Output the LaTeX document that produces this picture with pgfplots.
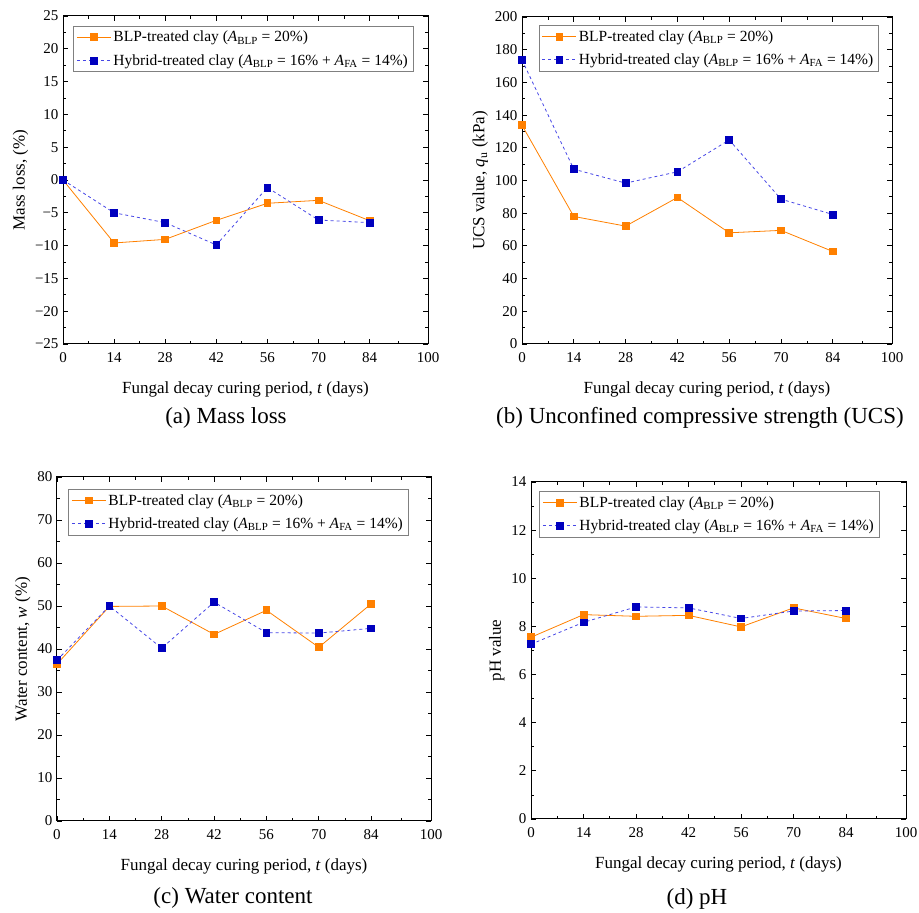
\documentclass[border=0pt]{standalone}
\usepackage{fontspec}
\setmainfont{Liberation Serif}
\usepackage{pgfplots}
\pgfplotsset{compat=1.18}
\definecolor{blporange}{RGB}{255,128,0}
\definecolor{hyblue}{RGB}{0,0,190}
\definecolor{hyline}{RGB}{70,70,230}
\newcommand{\legA}{BLP-treated clay (\textit{A}\textsubscript{BLP} = 20\%)}
\newcommand{\legB}{Hybrid-treated clay (\textit{A}\textsubscript{BLP} = 16\% + \textit{A}\textsubscript{FA} = 14\%)}
\pgfplotsset{
  myax/.style={
    scale only axis,
    xmin=0, xmax=100,
    xtick={0,14,28,42,56,70,84,100},
    minor xtick={7,21,35,49,63,77,92},
    tick align=inside,
    major tick length=5pt,
    minor tick length=3pt,
    every tick/.style={black, line width=0.8pt},
    axis line style={line width=1pt},
    /pgf/number format/assume math mode=true,
    ticklabel style={font=\fontsize{15}{15}\selectfont},
    xticklabel style={yshift=-5pt},
    yticklabel style={xshift=-1pt},
    label style={font=\fontsize{17}{17}\selectfont},
    xlabel style={yshift=-12pt},
    xlabel={Fungal decay curing period, \textit{t} (days)},
    legend cell align=left,
    legend style={at={(0.028,0.97)}, anchor=north west, draw=gray, line width=0.6pt,
      font=\fontsize{15.5}{17}\selectfont, inner sep=3pt, row sep=7pt},
    legend image code/.code={\draw[mark repeat=2,mark phase=2] plot coordinates {(0cm,0cm) (0.6cm,0cm) (1.2cm,0cm)};},
  },
  blp/.style={color=blporange, line width=0.8pt, mark=square*, mark size=3.4pt, mark options={solid, fill=blporange}},
  hyb/.style={color=hyline, line width=0.8pt, dashed, mark=square*, mark size=3.4pt, mark options={solid, fill=hyblue, draw=hyblue}},
}
\begin{document}
\begin{tikzpicture}[x=1pt,y=1pt]
\path[use as bounding box] (0,0) rectangle (919,913);
% (a)
\begin{axis}[myax, at={(63pt,569pt)}, anchor=south west, width=365pt, height=328pt,
  ymin=-25, ymax=25, ytick={-25,-20,...,25},
  yticklabels={−25,−20,−15,−10,−5,0,5,10,15,20,25},
  minor ytick={-22.5,-17.5,...,22.5},
  ylabel={Mass loss, (\%)}]
\addplot[blp] coordinates {(0,0) (14,-9.6) (28,-9.05) (42,-6.15) (56,-3.55) (70,-3.1) (84,-6.2)};
\addlegendentry{\legA}
\addplot[hyb] coordinates {(0,0) (14,-5.0) (28,-6.5) (42,-9.9) (56,-1.15) (70,-6.1) (84,-6.5)};
\addlegendentry{\legB}
\end{axis}
\node[font=\fontsize{23}{23}\selectfont] at (226,495) {(a) Mass loss};
% (b)
\begin{axis}[myax, at={(522pt,569pt)}, anchor=south west, width=370pt, height=327pt,
  ymin=0, ymax=200, ytick={0,20,...,200}, minor ytick={10,30,...,190},
  ylabel={UCS value, \textit{q}\textsubscript{u} (kPa)},
  legend style={at={(0.045,0.975)}}]
\addplot[blp] coordinates {(0,133.8) (14,78) (28,72.1) (42,89.6) (56,68) (70,69.5) (84,56.6)};
\addlegendentry{\legA}
\addplot[hyb] coordinates {(0,173.7) (14,106.9) (28,98.4) (42,105.3) (56,124.8) (70,88.6) (84,79.2)};
\addlegendentry{\legB}
\end{axis}
\node[font=\fontsize{23}{23}\selectfont] at (700,495) {(b) Unconfined compressive strength (UCS)};
% (c)
\begin{axis}[myax, at={(57pt,92pt)}, anchor=south west, width=374pt, height=344pt,
  ymin=0, ymax=80, ytick={0,10,...,80}, minor ytick={5,15,...,75},
  ylabel={Water content, \textit{w} (\%)},
  legend style={at={(0.03,0.965)}}]
\addplot[blp] coordinates {(0,36.5) (14,49.9) (28,50.0) (42,43.4) (56,49.0) (70,40.4) (84,50.5)};
\addlegendentry{\legA}
\addplot[hyb] coordinates {(0,37.4) (14,50.0) (28,40.2) (42,50.9) (56,43.8) (70,43.7) (84,44.8)};
\addlegendentry{\legB}
\end{axis}
\node[font=\fontsize{23}{23}\selectfont] at (233,15) {(c) Water content};
% (d)
\begin{axis}[myax, at={(531pt,94pt)}, anchor=south west, width=375pt, height=337pt,
  ymin=0, ymax=14, ytick={0,2,...,14}, minor ytick={1,3,...,13},
  ylabel={pH value},
  legend style={at={(0.022,0.973)}}]
\addplot[blp] coordinates {(0,7.55) (14,8.49) (28,8.42) (42,8.46) (56,7.98) (70,8.77) (84,8.33)};
\addlegendentry{\legA}
\addplot[hyb] coordinates {(0,7.26) (14,8.17) (28,8.81) (42,8.77) (56,8.33) (70,8.64) (84,8.66)};
\addlegendentry{\legB}
\end{axis}
\node[font=\fontsize{23}{23}\selectfont] at (697,14) {(d) pH};
\end{tikzpicture}
\end{document}
